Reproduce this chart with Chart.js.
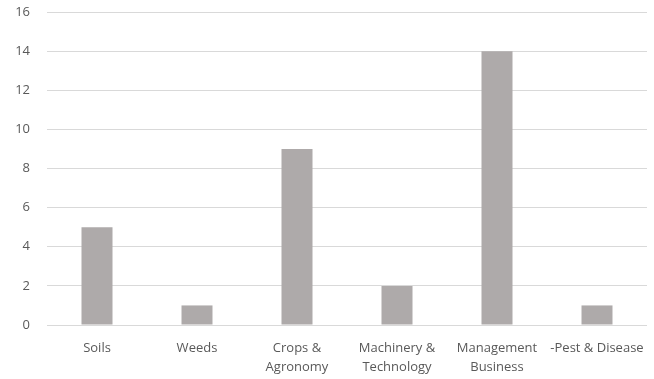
<!DOCTYPE html>
<html>
<head>
<meta charset="utf-8">
<script src="https://cdn.jsdelivr.net/npm/chart.js@4/dist/chart.umd.min.js"></script>
<style>
  html, body { margin: 0; padding: 0; background: #fff; }
  #chartBox { width: 654px; height: 379px; }
</style>
</head>
<body>
<div id="chartBox"><canvas id="topicChart" width="654" height="379"></canvas></div>
<script>
// Topic counts
const categories = [
    'Soils',
    'Weeds',
    ['Crops &', 'Agronomy'],
    ['Machinery &', 'Technology'],
    ['Management', 'Business'],
    '-Pest & Disease'
];
const counts = [5, 1, 9, 2, 14, 1];
const yTicks = [0, 2, 4, 6, 8, 10, 12, 14, 16];

const labelFont = { family: '"Open Sans", "Noto Sans", sans-serif', size: 13, lineHeight: 1.45 };

new Chart(document.getElementById('topicChart').getContext('2d'), {
    type: 'bar',
    data: {
        labels: categories,
        datasets: [{
            label: 'Count',
            data: counts,
            backgroundColor: '#aeaaaa',
            categoryPercentage: 1,
            barPercentage: 0.31
        }]
    },
    options: {
        responsive: false,
        animation: false,
        layout: { padding: { top: 12, right: 7, left: 0, bottom: 0 } },
        plugins: {
            legend: { display: false },
            tooltip: { enabled: false }
        },
        scales: {
            x: {
                grid: { display: false },
                border: { display: false },
                ticks: { color: '#595959', font: labelFont, maxRotation: 0, autoSkip: false, padding: 6 },
                afterFit: scale => { scale.height = 54; }
            },
            y: {
                min: 0,
                max: 16,
                afterBuildTicks: scale => { scale.ticks = yTicks.map(v => ({ value: v })); },
                grid: { color: '#d9d9d9', drawTicks: false },
                border: { display: false },
                ticks: { color: '#595959', font: { family: labelFont.family, size: 13 }, padding: 17 },
                afterFit: scale => {
                    scale.width = 47;
                    scale.paddingTop = 0;
                    scale.paddingBottom = 0;
                }
            }
        }
    }
});
</script>
</body>
</html>
